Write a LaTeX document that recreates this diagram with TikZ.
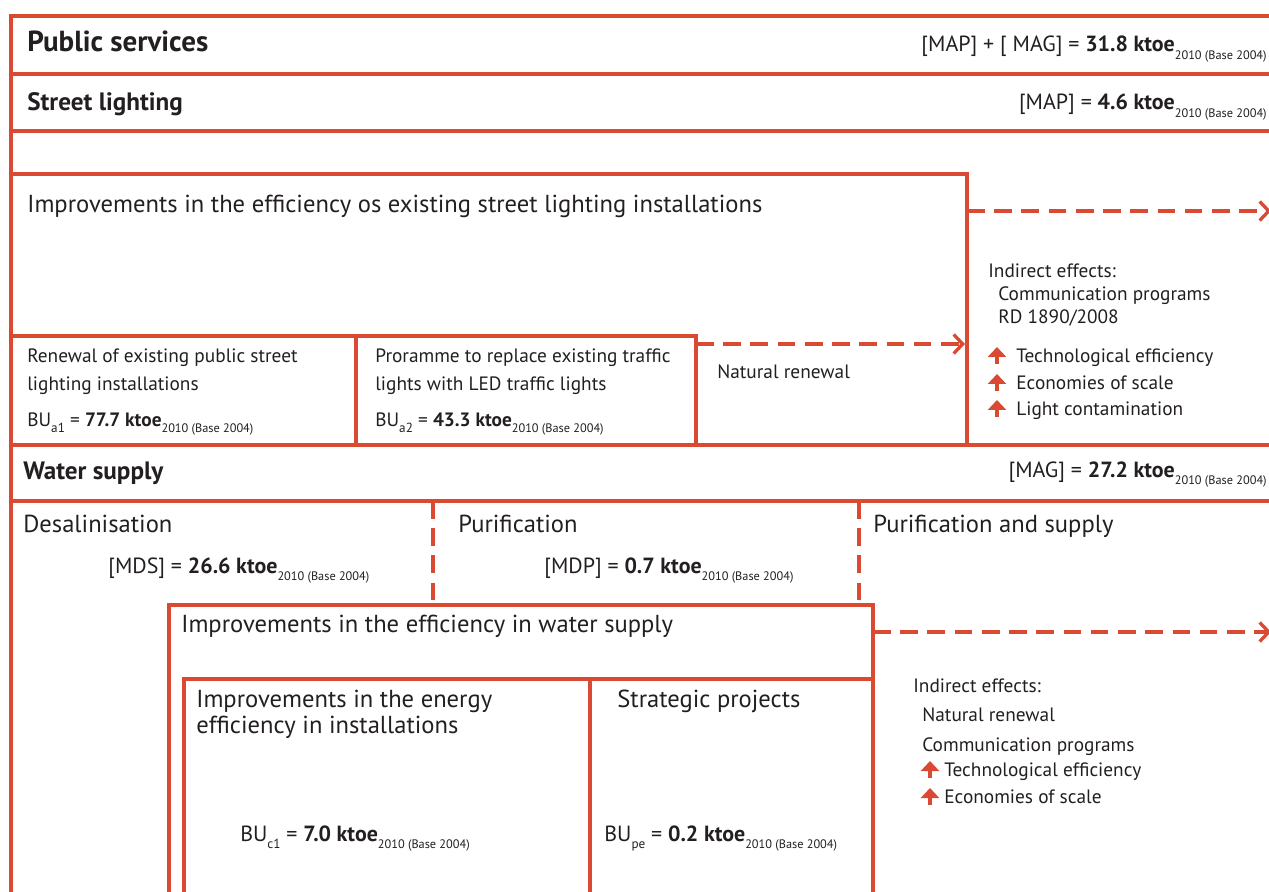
\documentclass[tikz,border=0pt]{standalone}
\usepackage{fontspec}
\setmainfont{PT Sans}
\usetikzlibrary{arrows.meta}
\definecolor{lred}{RGB}{218,74,50}
\definecolor{ink}{RGB}{35,31,32}
\newcommand{\baseyr}{\raisebox{-0.7ex}{\fontsize{7}{8}\selectfont\mdseries 2010 (Base 2004)}}
\newcommand{\bsub}[1]{\raisebox{-0.7ex}{\fontsize{7.5}{8}\selectfont #1}}

\begin{document}
\begin{tikzpicture}[x=0.02cm,y=-0.02cm,
  frame/.style={draw=lred,line width=1.9pt},
  dline/.style={draw=lred,line width=1.9pt,dash pattern=on 10pt off 5.5pt},
  flow/.style={dline,-{Straight Barb[length=1.8mm,width=3.8mm,line width=1.9pt]}},
  upbul/.style={draw=lred,line width=2.3pt,-{Triangle[length=2mm,width=3.6mm]}},
  hd/.style={anchor=base west,inner sep=0pt,text=ink,font=\bfseries\fontsize{16.5}{19}\selectfont},
  sub/.style={anchor=base west,inner sep=0pt,text=ink,font=\bfseries\fontsize{14.3}{17}\selectfont},
  val/.style={anchor=base east,inner sep=0pt,text=ink,font=\fontsize{12.5}{15}\selectfont},
  big/.style={anchor=base west,inner sep=0pt,text=ink,font=\fontsize{14}{17}\selectfont},
  txt/.style={anchor=base west,inner sep=0pt,text=ink,font=\fontsize{11}{13}\selectfont},
  num/.style={anchor=base west,inner sep=0pt,text=ink,font=\fontsize{12.5}{15}\selectfont}
]
\useasboundingbox (0,0) rectangle (1269,892);

% outer frame and rows
\draw[frame] (1275,16) -- (11,16) -- (11,900);
\draw[frame] (11,74) -- (1275,74);
\draw[frame] (11,131) -- (1275,131);
\draw[frame] (11,445) -- (1275,445);
\draw[frame] (11,501) -- (1275,501);

% street lighting boxes
\draw[frame] (11,174) -- (967,174) -- (967,445);
\draw[frame] (11,336) -- (696,336) -- (696,445);
\draw[frame] (356,336) -- (356,445);

% water supply boxes
\draw[dline] (433,501) -- (433,605);
\draw[dline] (859,501) -- (859,605);
\draw[frame] (169,900) -- (169,605) -- (873,605) -- (873,900);
\draw[frame] (184,900) -- (184,679) -- (873,679);
\draw[frame] (590,679) -- (590,900);

% connector ends
\coordinate (lampE)  at (967,211);
\coordinate (lampX)  at (1271,211);
\coordinate (ledE)   at (696,344);
\coordinate (lampW)  at (965,344);
\coordinate (waterE) at (873,632);
\coordinate (waterX) at (1271,632);

% headings
\node[hd]  (pubs)   at (27,52)   {Public services};
\node[val] (pubsv)  at (1267,52) {[MAP] + [ MAG] = \textbf{31.8 ktoe}\baseyr};
\node[sub] (street) at (27,111)  {Street lighting};
\node[val] (streetv) at (1267,110) {[MAP] = \textbf{4.6 ktoe}\baseyr};
\node[sub] (water)  at (23,479)  {Water supply};
\node[val] (waterv) at (1267,477) {[MAG] = \textbf{27.2 ktoe}\baseyr};

% street lighting
\node[big] (lamp) at (27,213) {Improvements in the efficiency os existing street lighting installations};
\node[txt] (renew1) at (27,362) {Renewal of existing public street};
\node[txt] (renew2) at (27,390) {lighting installations};
\node[txt] (renewv) at (27,426) {BU\bsub{a1} = \textbf{77.7 ktoe}\baseyr};
\node[txt] (led1) at (375,362) {Proramme to replace existing traffic};
\node[txt] (led2) at (375,390) {lights with LED traffic lights};
\node[txt] (ledv) at (375,426) {BU\bsub{a2} = \textbf{43.3 ktoe}\baseyr};
\node[txt] (natur) at (717,378) {Natural renewal};

\node[txt] (ind1)  at (988,277)  {Indirect effects:};
\node[txt] (ind1a) at (998,300)  {Communication programs};
\node[txt] (ind1b) at (998,323)  {RD 1890/2008};
\node[txt] (ind1c) at (1016,362) {Technological efficiency};
\node[txt] (ind1d) at (1016,389) {Economies of scale};
\node[txt] (ind1e) at (1016,415) {Light contamination};
\draw[upbul] (997,364) -- (997,347);
\draw[upbul] (997,391) -- (997,374);
\draw[upbul] (997,417) -- (997,400);

% water supply
\node[big] (desal) at (23,532)  {Desalinisation};
\node[num] (desalv) at (108,573) {[MDS] = \textbf{26.6 ktoe}\baseyr};
\node[big] (purif) at (458,532) {Purification};
\node[num] (purifv) at (544,573) {[MDP] = \textbf{0.7 ktoe}\baseyr};
\node[big] (supply) at (873,532) {Purification and supply};
\node[big] (wsup) at (181,632) {Improvements in the efficiency in water supply};
\node[big] (inst1) at (196,707) {Improvements in the energy};
\node[big] (inst2) at (196,733) {efficiency in installations};
\node[num] (instv) at (240,841) {BU\bsub{c1} = \textbf{7.0 ktoe}\baseyr};
\node[big] (strat) at (617,707) {Strategic projects};
\node[num] (stratv) at (604,841) {BU\bsub{pe} = \textbf{0.2 ktoe}\baseyr};

\node[txt] (ind2)  at (913,692) {Indirect effects:};
\node[txt] (ind2a) at (922,721) {Natural renewal};
\node[txt] (ind2b) at (922,751) {Communication programs};
\node[txt] (ind2c) at (944,776) {Technological efficiency};
\node[txt] (ind2d) at (944,803) {Economies of scale};
\draw[upbul] (930,778) -- (930,761);
\draw[upbul] (930,805) -- (930,788);

% dashed links
\draw[flow] (lampE) -- (lampX);
\draw[flow] (ledE) -- (lampW);
\draw[flow] (waterE) -- (waterX);
\end{tikzpicture}
\end{document}
